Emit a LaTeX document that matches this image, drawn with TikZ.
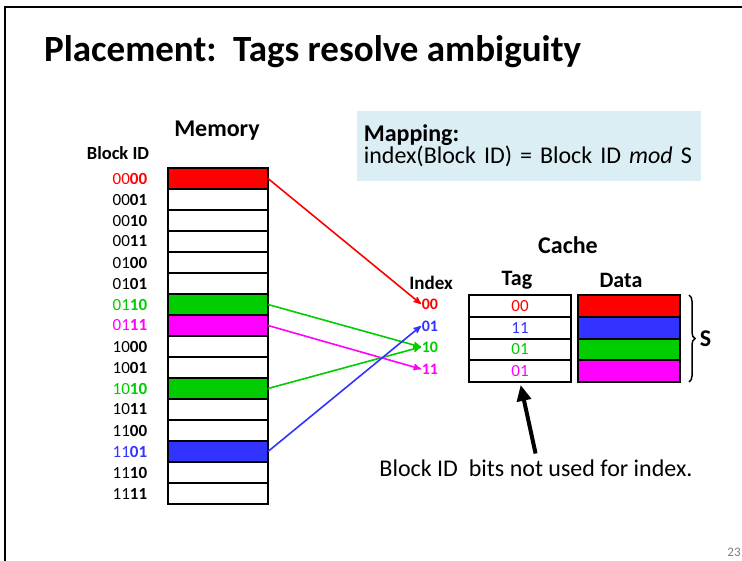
\documentclass[tikz,border=0pt]{standalone}
\usepackage{fontspec}
\setmainfont{Carlito}
\usetikzlibrary{arrows,arrows.meta,positioning,decorations.pathreplacing}
\definecolor{cred}{RGB}{255,0,0}
\definecolor{cgreen}{RGB}{0,204,0}
\definecolor{cblue}{RGB}{51,51,255}
\definecolor{cpink}{RGB}{255,0,255}
\definecolor{mapblue}{RGB}{219,238,244}

\begin{document}
\begin{tikzpicture}[
    x=1pt, y=1pt, >=stealth', line width=1.6pt,
    memblock/.style={rectangle, draw, line width=2.2pt, minimum width=100pt,
      minimum height=21pt, inner sep=0pt, outer sep=0pt},
    bid/.style={font=\fontsize{17}{17}\selectfont, inner sep=0pt, xshift=-20pt},
    idx/.style={font=\fontsize{16}{16}\bfseries, inner sep=0pt, anchor=west},
    cacheblock/.style={rectangle, draw, line width=2pt, minimum width=102pt,
      minimum height=21.7pt, inner sep=0pt, outer sep=0pt, font=\fontsize{17}{17}\selectfont},
    heading/.style={font=\fontsize{24}{24}\bfseries}]

    \useasboundingbox (0,0) rectangle (742,-561);

    % Define slide frame and title
    \draw[line width=2.5pt] (5,-561) -- (5,-7) -- (742,-7);
    \node[anchor=west, font=\fontsize{37}{37}\bfseries] (title) at (40,-52)
        {Placement:\ \ Tags resolve ambiguity};
    \node[text=gray, font=\fontsize{13}{13}\selectfont] (page) at (734,-552) {23};

    % Define memory blocks
    \node[heading] (memory) at (217,-131) {Memory};
    \node[font=\fontsize{18.5}{18.5}\bfseries] (blockid) at (118,-153) {Block ID};
    \node[memblock, fill=cred, label={[bid, cred]left:00\textbf{00}}] (m0) at (218,-178.5) {};
    \node[memblock, label={[bid]left:00\textbf{01}}] (m1) [below=0pt of m0] {};
    \node[memblock, label={[bid]left:00\textbf{10}}] (m2) [below=0pt of m1] {};
    \node[memblock, label={[bid]left:00\textbf{11}}] (m3) [below=0pt of m2] {};
    \node[memblock, label={[bid]left:01\textbf{00}}] (m4) [below=0pt of m3] {};
    \node[memblock, label={[bid]left:01\textbf{01}}] (m5) [below=0pt of m4] {};
    \node[memblock, fill=cgreen, label={[bid, cgreen]left:01\textbf{10}}] (m6) [below=0pt of m5] {};
    \node[memblock, fill=cpink, label={[bid, cpink]left:01\textbf{11}}] (m7) [below=0pt of m6] {};
    \node[memblock, label={[bid]left:10\textbf{00}}] (m8) [below=0pt of m7] {};
    \node[memblock, label={[bid]left:10\textbf{01}}] (m9) [below=0pt of m8] {};
    \node[memblock, fill=cgreen, label={[bid, cgreen]left:10\textbf{10}}] (m10) [below=0pt of m9] {};
    \node[memblock, label={[bid]left:10\textbf{11}}] (m11) [below=0pt of m10] {};
    \node[memblock, label={[bid]left:11\textbf{00}}] (m12) [below=0pt of m11] {};
    \node[memblock, fill=cblue, label={[bid, cblue]left:11\textbf{01}}] (m13) [below=0pt of m12] {};
    \node[memblock, label={[bid]left:11\textbf{10}}] (m14) [below=0pt of m13] {};
    \node[memblock, label={[bid]left:11\textbf{11}}] (m15) [below=0pt of m14] {};

    % Define mapping box
    \node[anchor=north west, fill=mapblue, minimum width=344pt, minimum height=70pt,
          text width=330pt, inner xsep=7pt, align=left,
          font=\fontsize{24}{22}\selectfont] (mapping) at (356,-110)
        {\textbf{Mapping:}\\ index(Block ID) = Block ID \textit{mod} S};

    % Define index labels
    \node[font=\fontsize{19}{19}\bfseries] (index) at (431,-283) {Index};
    \node[idx, text=cred] (i0) at (421,-304) {00};
    \node[idx, text=cblue] (i1) at (421,-326) {01};
    \node[idx, text=cgreen] (i2) at (421,-347) {10};
    \node[idx, text=cpink] (i3) at (421,-369) {11};

    % Define cache
    \node[heading] (cache) at (568,-245) {Cache};
    \node[cacheblock, text=cred] (t0) at (520,-306) {00};
    \node[cacheblock, text=cblue] (t1) [below=0pt of t0] {11};
    \node[cacheblock, text=cgreen] (t2) [below=0pt of t1] {01};
    \node[cacheblock, text=cpink] (t3) [below=0pt of t2] {01};
    \node[cacheblock, fill=cred] (d0) [right=7pt of t0] {};
    \node[cacheblock, fill=cblue] (d1) [below=0pt of d0] {};
    \node[cacheblock, fill=cgreen] (d2) [below=0pt of d1] {};
    \node[cacheblock, fill=cpink] (d3) [below=0pt of d2] {};
    \node[font=\fontsize{22}{22}\bfseries] (tag) at (517,-280) {Tag};
    \node[font=\fontsize{22}{22}\bfseries] (data) at (621,-280) {Data};
    \draw[decorate, decoration={brace, amplitude=6pt}, line width=1.5pt]
        ([xshift=9pt]d0.north east) -- ([xshift=9pt]d3.south east)
        node[midway, right=10pt, heading, inner sep=0pt] (S) {S};

    % Draw mapping arrows
    \draw[->, cred] (m0.east) -- (i0.west);
    \draw[->, cgreen] (m6.east) -- (i2.west);
    \draw[->, cpink] (m7.east) -- (i3.west);
    \draw[->, cgreen] (m10.east) -- (i2.west);
    \draw[->, cblue] (m13.east) -- (i1.west);

    % Draw note
    \node[font=\fontsize{24}{24}\selectfont] (note) at (536,-468) {Block ID\ \ bits not used for index.};
    \draw[-{Triangle[length=16pt, width=14pt]}, line width=4pt, shorten >=3pt, shorten <=2pt]
        (note.north) -- (t3.south);

\end{tikzpicture}
\end{document}
